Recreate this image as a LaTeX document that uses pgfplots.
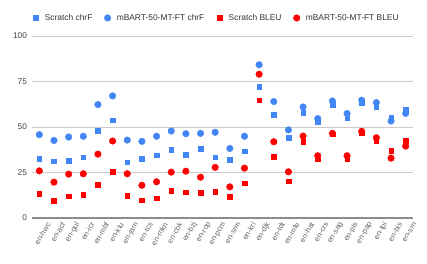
\documentclass[border=0pt]{standalone}
\usepackage{pgfplots}
\usepackage{pgfplotstable}
\pgfplotsset{compat=1.18}
\usepackage{fontspec}
\setmainfont{Liberation Sans}
\definecolor{gblue}{HTML}{4285F4}
\definecolor{gred}{HTML}{FF0000}
\pgfplotstableread{
x sc mc sb mb
0 32.5 45.8 13.2 25.9
1 31.3 42.6 9.4 19.7
2 31.6 44.5 12.0 24.1
3 33.3 44.9 12.9 24.3
4 48.1 62.3 18.2 35.1
5 53.7 67.1 25.5 42.3
6 30.7 42.8 12.1 24.3
7 32.5 42.1 9.7 18.0
8 34.6 44.9 10.8 19.9
9 37.5 47.8 14.9 25.2
10 34.9 46.3 14.2 25.7
11 38.2 46.5 14.0 22.4
12 33.5 47.1 14.5 27.8
13 32.0 38.2 11.8 17.1
14 36.6 44.9 19.1 27.4
15 72.1 84.2 64.7 79.0
16 56.6 64.0 33.8 41.9
17 44.1 48.4 20.2 25.4
18 57.9 61.0 41.9 45.0
19 52.6 54.6 32.4 34.2
20 62.3 64.3 46.0 46.5
21 55.0 57.4 32.4 34.2
22 63.4 64.7 46.7 47.6
23 61.0 63.4 42.1 44.1
24 55.0 53.3 37.1 32.9
25 59.6 57.5 42.5 39.5
}\data
\begin{document}
\begin{tikzpicture}
\path[use as bounding box] (-32bp,-46bp) rectangle (395bp,218bp);
\begin{axis}[
  at={(0,0)}, anchor=south west,
  scale only axis, width=381bp, height=182bp,
  xmin=-0.5, xmax=25.5, ymin=0, ymax=100,
  axis line style={draw=none},
  major tick length=0pt,
  xtick={0,...,25},
  xticklabels={en-hwc,en-acf,en-gul,en-icr,en-mbf,en-ktu,en-jam,en-tcs,en-mkn,en-cbk,en-bzj,en-rop,en-pcm,en-srm,en-kri,en-djk,en-tdt,en-mfe,en-hat,en-crs,en-sag,en-pis,en-pap,en-tpi,en-bis,en-srn},
  xticklabel style={rotate=60, anchor=east, yshift=-10.5bp, xshift=1bp, font=\fontsize{7.6bp}{8bp}\selectfont, text=black!60, inner sep=0.5bp},
  ytick={25,50,75,100},
  extra y ticks={0},
  extra y tick style={grid style={draw=black!45, line width=1.6bp}},
  ymajorgrids,
  grid style={draw=black!20, line width=0.8bp},
  yticklabel style={font=\fontsize{8.3bp}{9bp}\selectfont, text=black!75, xshift=-1.5bp},
  /pgf/number format/assume math mode=true,
  legend image code/.code={\path (0bp,0bp) (14bp,0bp); \draw[#1] plot coordinates {(7bp,0bp)};},
  legend style={at={(rel axis cs:0.479,1.099)}, anchor=center, draw=none, fill=none,
    legend columns=4, font=\fontsize{8.4bp}{9bp}\selectfont, text=black!80,
    /tikz/every even column/.append style={column sep=6bp}},
  legend cell align=left,
]
\addplot[only marks, mark=square*, mark size=2.3bp, color=gblue] table[x=x,y=sc] {\data};
\addlegendentry{Scratch chrF}
\addplot[only marks, mark=*, mark size=3.3bp, color=gblue] table[x=x,y=mc] {\data};
\addlegendentry{mBART-50-MT-FT chrF}
\addplot[only marks, mark=square*, mark size=2.3bp, color=gred] table[x=x,y=sb] {\data};
\addlegendentry{Scratch BLEU}
\addplot[only marks, mark=*, mark size=3.3bp, color=gred] table[x=x,y=mb] {\data};
\addlegendentry{mBART-50-MT-FT BLEU}
\end{axis}
\end{tikzpicture}
\end{document}
